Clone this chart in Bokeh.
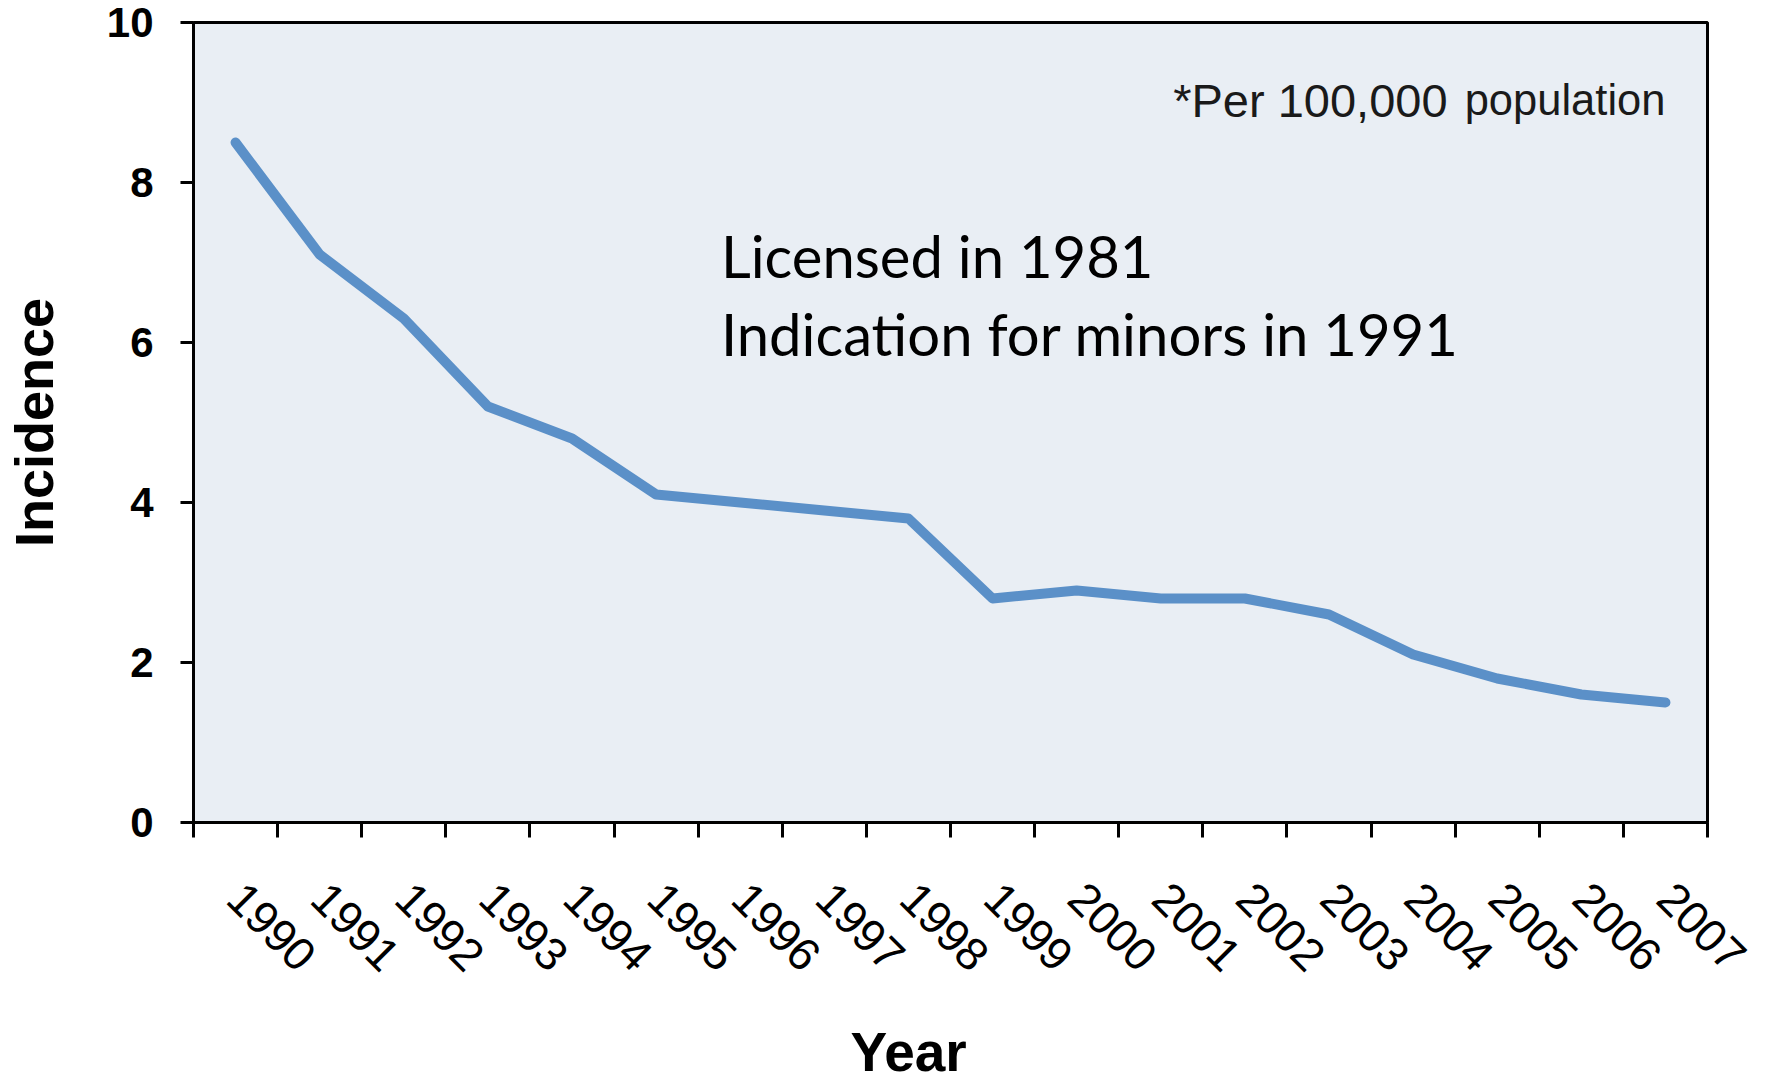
import math
from bokeh.plotting import figure
from bokeh.models import FixedTicker, Range1d, Title
from bokeh.core.properties import value
from bokeh.embed import file_html
from bokeh.resources import INLINE

years = ["1990", "1991", "1992", "1993", "1994", "1995", "1996", "1997", "1998",
         "1999", "2000", "2001", "2002", "2003", "2004", "2005", "2006", "2007"]
incidence = [8.5, 7.1, 6.3, 5.2, 4.8, 4.1, 4.0, 3.9, 3.8,
             2.8, 2.9, 2.8, 2.8, 2.6, 2.1, 1.8, 1.6, 1.5]
y_ticks = [0, 2, 4, 6, 8, 10]

note_main = "*Per 100,000"
note_unit = "population"
annot_1 = "Licensed in 1981"
annot_2 = "Indication for minors in 1991"

n = len(years)
xs = [i + 0.5 for i in range(n)]

p = figure(frame_width=1514, frame_height=800,
           min_border_left=186, min_border_top=22, min_border_right=50, min_border_bottom=230,
           x_range=Range1d(0, n), y_range=Range1d(0, 10),
           output_backend="svg", toolbar_location=None,
           background_fill_color="#e9eef4", border_fill_color="white")
p.grid.visible = False
p.outline_line_color = "black"
p.outline_line_width = 3

p.line(xs, incidence, line_color="#5b90c8", line_width=10, line_join="round", line_cap="round")

# x axis
p.xaxis.ticker = FixedTicker(ticks=xs, minor_ticks=list(range(n + 1)))
p.xaxis.major_label_overrides = {x: y for x, y in zip(xs, years)}
p.xaxis.major_tick_out = 0
p.xaxis.major_tick_in = 0
p.xaxis.minor_tick_out = 15
p.xaxis.minor_tick_in = 0
p.xaxis.minor_tick_line_width = 3
p.xaxis.minor_tick_line_color = "black"
p.xaxis.axis_line_width = 3
p.xaxis.axis_line_color = "black"
p.xaxis.major_label_orientation = -math.pi / 4
p.xaxis.major_label_standoff = 53
p.xaxis.major_label_text_font = "Liberation Sans"
p.xaxis.major_label_text_font_size = "46px"
p.xaxis.major_label_text_color = "black"

# y axis
p.yaxis.ticker = FixedTicker(ticks=y_ticks, minor_ticks=[])
p.yaxis.major_tick_out = 13
p.yaxis.major_tick_in = 0
p.yaxis.major_tick_line_width = 3
p.yaxis.axis_line_width = 3
p.yaxis.axis_line_color = "black"
p.yaxis.major_label_standoff = 27
p.yaxis.major_label_text_font = "Liberation Sans"
p.yaxis.major_label_text_font_style = "bold"
p.yaxis.major_label_text_font_size = "42px"
p.yaxis.major_label_text_color = "black"
p.yaxis.axis_label = "Incidence"
p.yaxis.axis_label_text_font = "Liberation Sans"
p.yaxis.axis_label_text_font_style = "bold"
p.yaxis.axis_label_text_font_size = "54px"
p.yaxis.axis_label_text_color = "black"
p.yaxis.axis_label_standoff = 40

# x axis title
p.add_layout(Title(text="Year", align="left", offset=657, standoff=60,
                   text_font="Liberation Sans", text_font_style="bold",
                   text_font_size="55px", text_color="black"), "below")

# notes
p.text(x=[14.91], y=[9.03], text=[note_main], text_align="right", text_baseline="alphabetic",
       text_font=value("Liberation Sans"), text_font_size="47px", text_color="#1a1a1a")
p.text(x=[17.5], y=[9.03], text=[note_unit], text_align="right", text_baseline="alphabetic",
       text_font=value("Liberation Sans"), text_font_size="43.5px", text_color="#1a1a1a")
p.text(x=[6.27, 6.27], y=[7.09, 6.11], text=[annot_1, annot_2], text_align="left",
       text_baseline="alphabetic", text_font=value("Lato"), text_font_size="58px",
       text_color="black")

open("out.html", "w").write(file_html(p, INLINE))
